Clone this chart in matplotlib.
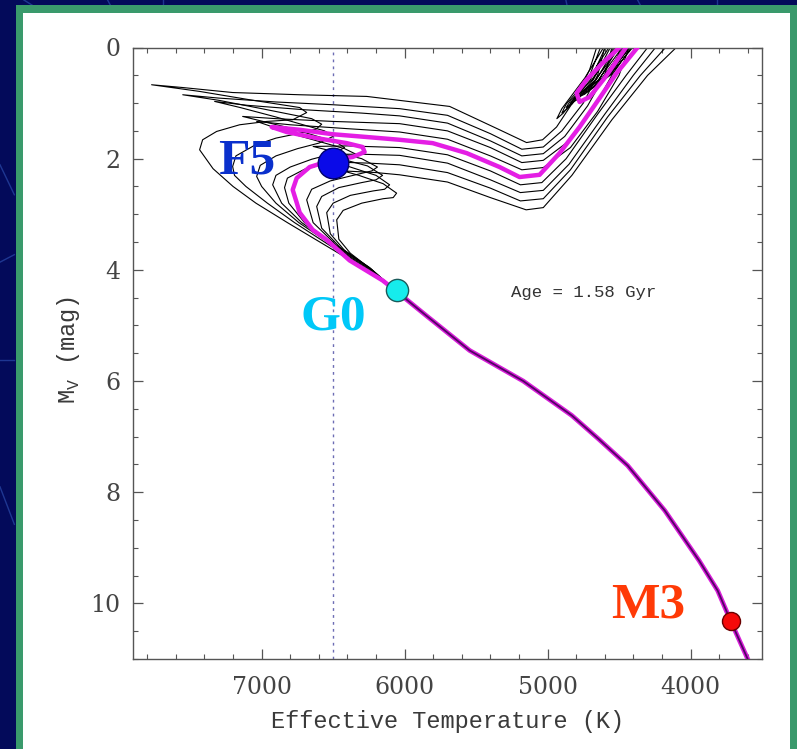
import numpy as np
import matplotlib
matplotlib.use("Agg")
import matplotlib.pyplot as plt
from matplotlib.patches import Rectangle
from matplotlib.lines import Line2D
from matplotlib.ticker import MultipleLocator

plt.rcParams['mathtext.fontset'] = 'custom'
plt.rcParams['mathtext.rm'] = 'Liberation Mono'

# shared lower main sequence (Teff [K], M_V [mag])
ms_teff = [6060, 5850, 5545, 5170, 4830, 4640, 4440, 4180, 3940, 3810, 3720, 3600]
ms_mv = [4.38, 4.82, 5.45, 6.00, 6.62, 7.05, 7.52, 8.33, 9.23, 9.77, 10.31, 11.0]

# highlighted isochrone, age 1.58 Gyr
mag_teff = [6060, 6154, 6385, 6545, 6643, 6734, 6755, 6783, 6755, 6664, 6504, 6364, 6280, 6294,
            6406, 6615, 6825, 6930, 6734, 6504, 6266, 6035, 5804, 5566, 5336, 5196, 5056, 4916,
            4776, 4636, 4517, 4371, 4320]
mag_mv = [4.38, 4.19, 3.83, 3.46, 3.28, 2.97, 2.79, 2.56, 2.35, 2.15, 2.02, 1.97, 1.88, 1.79,
          1.72, 1.63, 1.52, 1.43, 1.48, 1.56, 1.61, 1.66, 1.72, 1.90, 2.15, 2.33, 2.29, 1.90,
          1.43, 0.91, 0.46, 0.0, -0.2]
mag_clump_teff = [4441, 4497, 4615, 4727, 4797, 4776, 4706, 4601, 4462, 4406]
mag_clump_mv = [-0.2, 0.0, 0.28, 0.58, 0.82, 0.98, 0.89, 0.55, 0.04, -0.2]

# other isochrones (younger y1..y5, older o1..o4)
y1_teff = [6060, 6300, 6560, 6820, 7040, 7200, 7340, 7434, 7413, 7315, 7154, 6965, 6783, 6685,
           6734, 7084, 7434, 7770, 7553, 7203, 6734, 6265, 5685, 5336, 5147, 5035, 4937, 4811,
           4706, 4657, 4630]
y1_mv = [4.38, 3.95, 3.55, 3.15, 2.80, 2.50, 2.18, 1.84, 1.66, 1.51, 1.39, 1.33, 1.30, 1.17,
         1.08, 0.94, 0.79, 0.67, 0.72, 0.81, 0.85, 0.88, 1.06, 1.48, 1.71, 1.66, 1.43, 0.94,
         0.40, 0.0, -0.2]
y2_teff = [6060, 6290, 6530, 6770, 6960, 7110, 7190, 7203, 7180, 7050, 6900, 6750, 6620, 6580,
           6650, 7000, 7300, 7552, 7300, 6900, 6500, 6035, 5700, 5400, 5180, 5030, 4900, 4750,
           4650, 4600, 4570]
y2_mv = [4.38, 3.95, 3.55, 3.15, 2.80, 2.50, 2.30, 2.14, 1.95, 1.76, 1.63, 1.55, 1.47, 1.38,
         1.28, 1.10, 0.95, 0.85, 0.91, 0.98, 1.03, 1.10, 1.22, 1.55, 1.83, 1.79, 1.50, 1.00,
         0.50, 0.0, -0.2]
y3_teff = [6060, 6280, 6510, 6740, 6900, 7000, 7035, 7010, 6900, 6750, 6600, 6500, 6560, 6900,
           7150, 7329, 7100, 6700, 6300, 6035, 5700, 5400, 5180, 5030, 4880, 4720, 4600, 4550,
           4520]
y3_mv = [4.38, 3.95, 3.55, 3.15, 2.80, 2.50, 2.32, 2.12, 1.95, 1.82, 1.72, 1.60, 1.50, 1.25,
         1.08, 0.97, 1.04, 1.12, 1.18, 1.23, 1.36, 1.68, 1.95, 1.91, 1.60, 1.05, 0.50, 0.0,
         -0.2]
y4_teff = [6060, 6270, 6500, 6720, 6860, 6923, 6900, 6800, 6650, 6500, 6420, 6480, 6800, 7133,
           6900, 6500, 6035, 5700, 5400, 5180, 5030, 4860, 4680, 4550, 4490, 4460]
y4_mv = [4.38, 3.95, 3.55, 3.15, 2.80, 2.47, 2.30, 2.15, 2.01, 1.91, 1.80, 1.70, 1.45, 1.24,
         1.28, 1.33, 1.37, 1.50, 1.80, 2.07, 2.03, 1.70, 1.10, 0.50, 0.0, -0.2]
y5_teff = [6060, 6260, 6490, 6700, 6810, 6840, 6820, 6700, 6550, 6420, 6340, 6420, 6750, 7035,
           6800, 6400, 6035, 5700, 5400, 5180, 5030, 4840, 4650, 4500, 4430, 4400]
y5_mv = [4.38, 3.95, 3.55, 3.15, 2.80, 2.52, 2.35, 2.19, 2.09, 2.02, 1.92, 1.82, 1.58, 1.33,
         1.39, 1.46, 1.52, 1.65, 1.95, 2.20, 2.16, 1.80, 1.15, 0.50, 0.0, -0.2]
o1_teff = [6060, 6250, 6480, 6640, 6685, 6650, 6520, 6360, 6230, 6190, 6300, 6500, 6640, 6400,
           6035, 5700, 5400, 5190, 5040, 4870, 4650, 4450, 4300, 4260]
o1_mv = [4.38, 3.95, 3.55, 3.15, 2.74, 2.55, 2.40, 2.30, 2.22, 2.15, 2.00, 1.87, 1.78, 1.77,
         1.80, 1.93, 2.22, 2.47, 2.43, 2.00, 1.20, 0.50, 0.0, -0.2]
o2_teff = [6060, 6240, 6450, 6580, 6615, 6580, 6460, 6300, 6200, 6154, 6260, 6450, 6580, 6300,
           6035, 5700, 5400, 5190, 5030, 4850, 4600, 4400, 4245, 4200]
o2_mv = [4.38, 3.97, 3.60, 3.25, 2.86, 2.68, 2.52, 2.43, 2.38, 2.30, 2.13, 2.00, 1.92, 1.92,
         1.94, 2.08, 2.38, 2.61, 2.57, 2.10, 1.20, 0.50, 0.0, -0.2]
o3_teff = [6060, 6230, 6420, 6520, 6545, 6500, 6380, 6220, 6140, 6105, 6200, 6380, 6500, 6250,
           6035, 5700, 5400, 5190, 5030, 4840, 4580, 4350, 4175, 4130]
o3_mv = [4.38, 4.00, 3.65, 3.35, 2.97, 2.80, 2.66, 2.58, 2.55, 2.47, 2.30, 2.15, 2.06, 2.08,
         2.11, 2.25, 2.53, 2.76, 2.72, 2.20, 1.25, 0.50, 0.0, -0.2]
o4_teff = [6060, 6220, 6380, 6460, 6475, 6430, 6300, 6150, 6080, 6056, 6150, 6320, 6430, 6200,
           6035, 5700, 5400, 5150, 5030, 4830, 4550, 4300, 4100, 4050]
o4_mv = [4.38, 4.02, 3.70, 3.45, 3.10, 2.93, 2.80, 2.72, 2.70, 2.62, 2.45, 2.30, 2.22, 2.25,
         2.29, 2.42, 2.70, 2.92, 2.88, 2.30, 1.30, 0.50, 0.0, -0.2]

# red clump loops of the black isochrones
y1_clump_teff = [4560, 4740, 4900, 4935, 4890, 4720, 4600]
y1_clump_mv = [-0.2, 0.55, 1.10, 1.28, 1.18, 0.60, -0.2]
y2_clump_teff = [4520, 4710, 4870, 4900, 4860, 4700, 4560]
y2_clump_mv = [-0.2, 0.55, 1.02, 1.18, 1.10, 0.58, -0.2]
y3_clump_teff = [4480, 4690, 4840, 4870, 4830, 4680, 4520]
y3_clump_mv = [-0.2, 0.58, 0.96, 1.08, 1.02, 0.58, -0.2]
y4_clump_teff = [4440, 4670, 4810, 4840, 4800, 4660, 4480]
y4_clump_mv = [-0.2, 0.60, 0.90, 1.00, 0.95, 0.58, -0.2]
y5_clump_teff = [4420, 4650, 4790, 4815, 4780, 4640, 4460]
y5_clump_mv = [-0.2, 0.60, 0.85, 0.93, 0.90, 0.58, -0.2]
o1_clump_teff = [4400, 4620, 4760, 4775, 4740, 4600, 4420]
o1_clump_mv = [-0.2, 0.55, 0.80, 0.88, 0.84, 0.52, -0.2]
o2_clump_teff = [4380, 4600, 4740, 4755, 4720, 4580, 4400]
o2_clump_mv = [-0.2, 0.52, 0.76, 0.84, 0.80, 0.50, -0.2]
o3_clump_teff = [4360, 4580, 4720, 4735, 4700, 4560, 4380]
o3_clump_mv = [-0.2, 0.50, 0.72, 0.80, 0.76, 0.48, -0.2]
o4_clump_teff = [4340, 4560, 4700, 4715, 4680, 4540, 4360]
o4_clump_mv = [-0.2, 0.48, 0.68, 0.76, 0.72, 0.46, -0.2]

# marked stars
star_names = ['F5', 'G0', 'M3']
star_teff = [6500, 6056, 3720]
star_mv = [2.08, 4.37, 10.31]
star_colors = ['#0a0ae8', '#16ecec', '#f50a0a']
star_edges = ['#00006a', '#1a5a5a', '#6a0000']
star_sizes = [22, 16, 13]
label_teff = [7105, 6496, 4298]
label_mv = [2.05, 4.86, 10.04]
label_colors = ['#0a30cc', '#00c8f8', '#ff3a06']

fig = plt.figure(figsize=(7.97, 7.49), dpi=100)
fig.patch.set_facecolor('#030a5a')

# slide decoration
for xs, ys in [([0.03, 0.045], [1.0, 0.99]), ([0.135, 0.14], [1.0, 0.99]),
               ([0.205, 0.205], [1.0, 0.99]), ([0.71, 0.712], [1.0, 0.99]),
               ([0.80, 0.805], [1.0, 0.99]), ([0.9, 0.9], [1.0, 0.99]),
               ([0.0, 0.018], [0.78, 0.74]), ([0.0, 0.018], [0.52, 0.52]),
               ([0.0, 0.018], [0.65, 0.66]), ([0.0, 0.018], [0.35, 0.30])]:
    fig.add_artist(Line2D(xs, ys, transform=fig.transFigure, color='#2a4aaa', lw=1,
                          alpha=0.7, zorder=-3))
fig.add_artist(Rectangle((16 / 797, 0), 1, 744 / 749, transform=fig.transFigure,
                         facecolor='#3a9a6c', edgecolor='none', zorder=-2))
fig.add_artist(Rectangle((23 / 797, 0), 767 / 797, 736 / 749, transform=fig.transFigure,
                         facecolor='white', edgecolor='none', zorder=-1))

ax = fig.add_axes([133 / 797, 90 / 749, 629 / 797, 611.5 / 749])
ax.set_xlim(7900, 3500)
ax.set_ylim(11, 0)

black_sets = [(y1_teff, y1_mv), (y2_teff, y2_mv), (y3_teff, y3_mv), (y4_teff, y4_mv),
              (y5_teff, y5_mv), (o1_teff, o1_mv), (o2_teff, o2_mv), (o3_teff, o3_mv),
              (o4_teff, o4_mv),
              (y1_clump_teff, y1_clump_mv), (y2_clump_teff, y2_clump_mv),
              (y3_clump_teff, y3_clump_mv), (y4_clump_teff, y4_clump_mv),
              (y5_clump_teff, y5_clump_mv), (o1_clump_teff, o1_clump_mv),
              (o2_clump_teff, o2_clump_mv), (o3_clump_teff, o3_clump_mv),
              (o4_clump_teff, o4_clump_mv)]
for t, m in black_sets:
    ax.plot(t, m, color='black', lw=0.8, zorder=2)

ax.plot(mag_teff, mag_mv, color='#e41ee4', lw=3.2, zorder=3, solid_capstyle='butt')
ax.plot(mag_clump_teff, mag_clump_mv, color='#e41ee4', lw=3.2, zorder=3)
ax.plot(ms_teff, ms_mv, color='#d81ed8', lw=3.4, zorder=3)
ax.plot(ms_teff, ms_mv, color='#3a0050', lw=1.3, zorder=4, alpha=0.85)

ax.axvline(6500, color='#6c6cb4', lw=1, ls=(0, (2, 3)), zorder=1)

for i in range(len(star_names)):
    ax.plot(star_teff[i], star_mv[i], 'o', ms=star_sizes[i], color=star_colors[i],
            mec=star_edges[i], mew=1, zorder=5)
    ax.text(label_teff[i], label_mv[i], star_names[i], color=label_colors[i],
            fontsize=37, fontweight='bold', family='Liberation Serif',
            ha='center', va='center', zorder=6)

ax.text(5257, 4.41, 'Age = 1.58 Gyr', family='Liberation Mono', fontsize=12.5,
        color='#333333', ha='left', va='center')

ax.set_xticks([7000, 6000, 5000, 4000])
ax.set_yticks([0, 2, 4, 6, 8, 10])
ax.xaxis.set_minor_locator(MultipleLocator(200))
ax.yaxis.set_minor_locator(MultipleLocator(0.5))
ax.tick_params(which='both', direction='in', top=True, right=True, color='#555555')
ax.tick_params(which='major', length=7, width=0.9)
ax.tick_params(which='minor', length=3.5, width=0.8)
ax.tick_params(axis='x', pad=12)
ax.tick_params(axis='y', pad=9)
for lab in ax.get_xticklabels() + ax.get_yticklabels():
    lab.set_family('DejaVu Serif')
    lab.set_fontsize(17)
    lab.set_color('#444444')
for sp in ax.spines.values():
    sp.set_color('#555555')
    sp.set_linewidth(1.0)

ax.set_xlabel('Effective Temperature (K)', family='Liberation Mono', fontsize=17,
              color='#3a3a3a', va='center')
ax.xaxis.set_label_coords(0.5, -0.103)
ax.set_ylabel(r'M$_{\rm V}$ (mag)', family='Liberation Mono', fontsize=17,
              color='#3a3a3a', va='center')
ax.yaxis.set_label_coords(-0.103, 0.505)

fig.savefig('out.png', dpi=100, facecolor=fig.get_facecolor())
